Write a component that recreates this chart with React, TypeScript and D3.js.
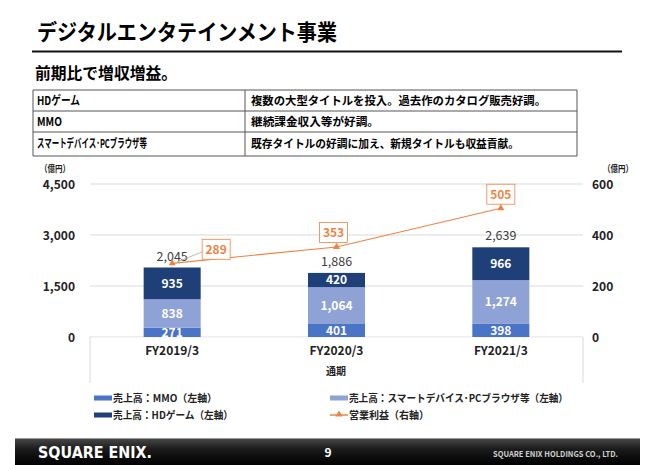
import React from 'react';
import * as d3 from 'd3';

const categories = ['FY2019/3', 'FY2020/3', 'FY2021/3'];
const mmo = [271, 401, 398];
const smart = [838, 1064, 1274];
const hd = [935, 420, 966];
const totals = [2045, 1886, 2639];
const profit = [289, 353, 505];
const leftTicks = [0, 1500, 3000, 4500];
const rightTicks = [0, 200, 400, 600];

const tableRows = [
  { k: 'HDゲーム', v: '複数の大型タイトルを投入。過去作のカタログ販売好調。', kw: 43, vw: 295 },
  { k: 'MMO', v: '継続課金収入等が好調。', kw: 25, vw: 128 },
  { k: 'スマートデバイス･PCブラウザ等', v: '既存タイトルの好調に加え、新規タイトルも収益貢献。', kw: 110, vw: 268 },
];

const labelOffsets = [[44, -14], [-3, -14.5], [0, -14]];

const FONT = "'Noto Sans CJK JP', 'Noto Sans', sans-serif";
const C_MMO = '#4a74c6';
const C_SMART = '#8fa2d6';
const C_HD = '#1f3f78';
const C_OR = '#ec8446';

export default function App() {
  const W = 655, H = 465;
  const x = d3.scaleBand<string>().domain(categories).range([90, 583]).paddingInner(0.653).paddingOuter(0.3265);
  const yL = d3.scaleLinear().domain([0, 4500]).range([337, 184]);
  const yR = d3.scaleLinear().domain([0, 600]).range([337, 184]);
  const bw = x.bandwidth();

  const series = [
    { name: 'mmo', vals: mmo, color: C_MMO },
    { name: 'smart', vals: smart, color: C_SMART },
    { name: 'hd', vals: hd, color: C_HD },
  ];

  const lineGen = d3.line<number>()
    .x((_, i) => (x(categories[i]) as number) + bw / 2)
    .y((d) => yR(d));

  const tri = d3.symbol().type(d3.symbolTriangle).size(22)();

  return (
    <svg width={W} height={H} style={{ position: 'absolute', left: 0, top: 0, background: '#fff' }} fontFamily={FONT}>
      <rect x={0} y={0} width={W} height={H} fill="#fff" />
      {/* Title */}
      <text x={37} y={40} fontSize={22} fontWeight={700} fill="#000" textLength={300} lengthAdjust="spacingAndGlyphs">デジタルエンタテインメント事業</text>
      <line x1={32} x2={622} y1={51.5} y2={51.5} stroke="#111" strokeWidth={2} />
      <text x={35} y={79} fontSize={16} fontWeight={700} fill="#000" textLength={142} lengthAdjust="spacingAndGlyphs">前期比で増収増益。</text>

      {/* Table */}
      <g>
        {[90, 111, 132, 156].map((yy, i) => (
          <line key={i} x1={33} x2={577} y1={yy} y2={yy} stroke="#555" strokeWidth={1} />
        ))}
        <line x1={33} x2={33} y1={90} y2={156} stroke="#555" />
        <line x1={577} x2={577} y1={90} y2={156} stroke="#555" />
        <line x1={245} x2={245} y1={90} y2={156} stroke="#555" />
        {tableRows.map((r, i) => {
          const cy = [100.5, 121.5, 144][i];
          return (
            <g key={i}>
              <text x={37} y={cy} dy="0.35em" fontSize={12} fontWeight={700} fill="#000" textLength={r.kw} lengthAdjust="spacingAndGlyphs">{r.k}</text>
              <text x={251} y={cy} dy="0.35em" fontSize={11.5} fontWeight={700} fill="#000" textLength={r.vw} lengthAdjust="spacingAndGlyphs">{r.v}</text>
            </g>
          );
        })}
      </g>

      {/* Axis units */}
      <text x={40} y={169} dy="0.35em" fontSize={9.5} fontWeight={700} fill="#222" textLength={30} lengthAdjust="spacingAndGlyphs">（億円）</text>
      <text x={603} y={169} dy="0.35em" fontSize={9.5} fontWeight={700} fill="#222" textLength={30} lengthAdjust="spacingAndGlyphs">（億円）</text>

      {/* Gridlines */}
      {leftTicks.map((t) => (
        <line key={t} x1={90} x2={583} y1={yL(t)} y2={yL(t)} stroke="#d9d9d9" strokeWidth={1} />
      ))}
      <line x1={90} x2={90} y1={337} y2={383} stroke="#d9d9d9" />
      <line x1={583} x2={583} y1={337} y2={383} stroke="#d9d9d9" />

      {leftTicks.map((t) => (
        <text key={t} x={75} y={yL(t) + 1} dy="0.35em" textAnchor="end" fontSize={12} fontWeight={700} fill="#222">{d3.format(',')(t)}</text>
      ))}
      {rightTicks.map((t) => (
        <text key={t} x={592} y={yR(t) + 1} dy="0.35em" textAnchor="start" fontSize={12} fontWeight={700} fill="#222">{t}</text>
      ))}

      {/* Bars */}
      {categories.map((c, i) => {
        let acc = 0;
        const x0 = x(c) as number;
        return (
          <g key={c}>
            {series.map((s) => {
              const v = s.vals[i];
              const y0 = yL(acc);
              const y1 = yL(acc + v);
              acc += v;
              return <rect key={s.name} x={x0} y={y1} width={bw} height={y0 - y1} fill={s.color} />;
            })}
          </g>
        );
      })}
      {categories.map((c, i) => {
        let acc = 0;
        const cx = (x(c) as number) + bw / 2;
        return (
          <g key={c + 'l'}>
            {series.map((s) => {
              const v = s.vals[i];
              const ym = yL(acc + v / 2);
              acc += v;
              return (
                <text key={s.name} x={cx} y={ym} dy="0.36em" textAnchor="middle" fontSize={12} fontWeight={700} fill="#fff">{d3.format(',')(v)}</text>
              );
            })}
            <text x={cx} y={yL(acc) - 7} textAnchor="middle" fontSize={12.5} fill="#404040">{d3.format(',')(totals[i])}</text>
          </g>
        );
      })}
      {/* cover overflow below axis */}
      <rect x={91} y={337.5} width={491} height={4} fill="#fff" />

      {/* Category labels */}
      {categories.map((c) => (
        <text key={c} x={(x(c) as number) + bw / 2} y={355} textAnchor="middle" fontSize={12} fontWeight={700} fill="#222">{c}</text>
      ))}
      <text x={336} y={375} textAnchor="middle" fontSize={10} fontWeight={700} fill="#222">通期</text>

      {/* Profit line */}
      <line x1={202} y1={252} x2={177} y2={262} stroke="#a6a6a6" strokeWidth={0.8} />
      <path d={lineGen(profit) || ''} fill="none" stroke={C_OR} strokeWidth={1.2} />
      {profit.map((p, i) => {
        const cx = (x(categories[i]) as number) + bw / 2;
        const cy = yR(p);
        const [ox, oy] = labelOffsets[i];
        return (
          <g key={i}>
            <path d={tri || ''} transform={`translate(${cx},${cy})`} fill={C_OR} />
            <rect x={cx + ox - 14} y={cy + oy - 10} width={28} height={20} fill="#fff" stroke={C_OR} strokeWidth={0.8} />
            <text x={cx + ox} y={cy + oy} dy="0.36em" textAnchor="middle" fontSize={12} fontWeight={700} fill={C_OR}>{p}</text>
          </g>
        );
      })}

      {/* Legend */}
      <g fontSize={10.5} fontWeight={700} fill="#222">
        <rect x={94} y={395.5} width={18} height={5} fill={C_MMO} />
        <text x={113} y={398} dy="0.35em" textLength={104} lengthAdjust="spacingAndGlyphs">売上高：MMO（左軸）</text>
        <rect x={94} y={412.5} width={18} height={5} fill={C_HD} />
        <text x={113} y={415} dy="0.35em" textLength={120} lengthAdjust="spacingAndGlyphs">売上高：HDゲーム（左軸）</text>
        <rect x={330} y={395.5} width={18} height={5} fill={C_SMART} />
        <text x={349} y={398} dy="0.35em" textLength={219} lengthAdjust="spacingAndGlyphs">売上高：スマートデバイス･PCブラウザ等（左軸）</text>
        <line x1={330} x2={348} y1={415} y2={415} stroke={C_OR} strokeWidth={1.5} />
        <path d={tri || ''} transform="translate(339,414.5)" fill={C_OR} />
        <text x={349} y={415} dy="0.35em" textLength={80} lengthAdjust="spacingAndGlyphs">営業利益（右軸）</text>
      </g>

      {/* Footer */}
      <defs>
        <linearGradient id="ft" x1="0" y1="0" x2="0" y2="1">
          <stop offset="0" stopColor="#4a4a4a" />
          <stop offset="0.4" stopColor="#1c1c1c" />
          <stop offset="1" stopColor="#000" />
        </linearGradient>
      </defs>
      <rect x={15} y={438} width={625} height={27} fill="url(#ft)" />
      <line x1={15} x2={640} y1={438.5} y2={438.5} stroke="#9a9a9a" strokeWidth={1} />
      <text x={38} y={452} dy="0.36em" fontFamily="'DejaVu Sans', sans-serif" fontSize={16} fontWeight={700} fill="#fff" textLength={114} lengthAdjust="spacingAndGlyphs">SQUARE ENIX.</text>
      <text x={328} y={453} dy="0.36em" textAnchor="middle" fontSize={12} fontWeight={700} fill="#fff">9</text>
      <text x={618} y={454} dy="0.36em" textAnchor="end" fontSize={8} fontWeight={700} fill="#d0d0d0" textLength={125} lengthAdjust="spacingAndGlyphs">SQUARE ENIX HOLDINGS CO., LTD.</text>
    </svg>
  );
}
